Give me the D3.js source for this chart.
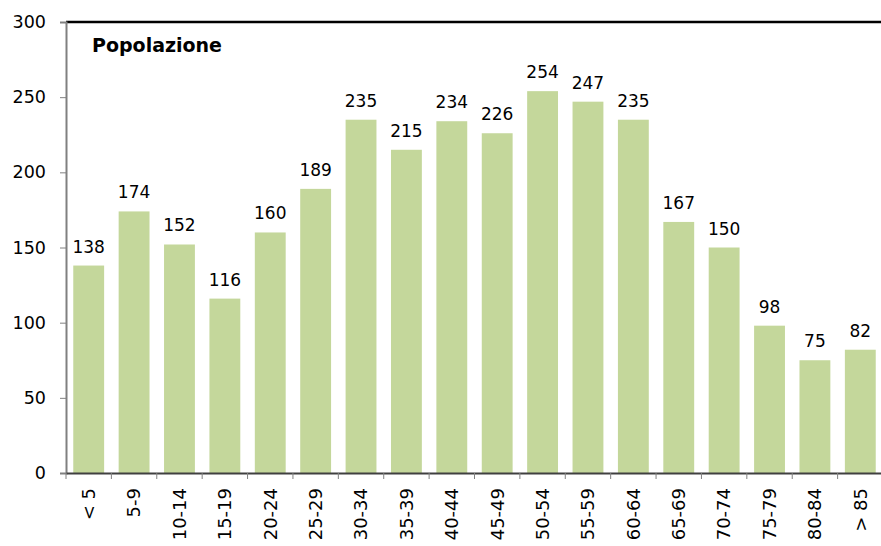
<!DOCTYPE html>
<html>
<head>
<meta charset="utf-8">
<script src="https://cdn.jsdelivr.net/npm/d3@7"></script>
<style>
  body { margin: 0; background: #fff; }
  text { font-family: "DejaVu Sans", Verdana, sans-serif; fill: #000; }
</style>
</head>
<body>
<div id="chart"></div>
<script>
// age classes and population per class
var categories = ["< 5", "5-9", "10-14", "15-19", "20-24", "25-29", "30-34", "35-39", "40-44",
  "45-49", "50-54", "55-59", "60-64", "65-69", "70-74", "75-79", "80-84", "> 85"];
var values = [138, 174, 152, 116, 160, 189, 235, 215, 234, 226, 254, 247, 235, 167, 150, 98, 75, 82];
var yTicks = [0, 50, 100, 150, 200, 250, 300];

var W = 881, H = 546;
var margin = {top: 22, right: -2, bottom: 73, left: 66},
    width = W - margin.left - margin.right,
    height = H - margin.top - margin.bottom;

var svg = d3.select("#chart").append("svg")
    .attr("width", W)
    .attr("height", H);

var g = svg.append("g")
    .attr("transform", "translate(" + margin.left + "," + margin.top + ")");

var x = d3.scaleBand()
    .domain(categories)
    .range([0, width])
    .paddingInner(0.32)
    .paddingOuter(0.16);

var y = d3.scaleLinear()
    .domain([0, 300])
    .range([height, 0]);

// bars
g.selectAll(".bar")
    .data(values)
    .enter().append("rect")
    .attr("class", "bar")
    .attr("x", function(d, i) { return x(categories[i]); })
    .attr("width", x.bandwidth())
    .attr("y", function(d) { return y(d); })
    .attr("height", function(d) { return height - y(d); })
    .attr("fill", "#c4d79b");

// value labels
g.selectAll(".lbl")
    .data(values)
    .enter().append("text")
    .attr("x", function(d, i) { return x(categories[i]) + x.bandwidth() / 2; })
    .attr("y", function(d) { return y(d) - 13; })
    .attr("text-anchor", "middle")
    .style("font-size", "17px")
    .text(function(d) { return d; });

// top border
g.append("line")
    .attr("x1", 0).attr("x2", width)
    .attr("y1", 0).attr("y2", 0)
    .attr("stroke", "#000").attr("stroke-width", 2.5);

// y axis
var yAxis = g.append("g")
    .call(d3.axisLeft(y).tickValues(yTicks).tickSize(6).tickPadding(14));
yAxis.select(".domain").attr("stroke", "#808080").attr("stroke-width", 2);
yAxis.selectAll(".tick line").attr("stroke", "#808080");
yAxis.selectAll("text").style("font-size", "17.5px").attr("fill", "#000");

// x axis, ticks between categories
var xAxis = g.append("g")
    .attr("transform", "translate(0," + height + ")")
    .call(d3.axisBottom(x).tickSize(0).tickPadding(0));
xAxis.select(".domain").attr("stroke", "#404040").attr("stroke-width", 2);
xAxis.selectAll("text")
    .style("font-size", "18px")
    .attr("text-anchor", "end")
    .attr("dy", "0.35em")
    .attr("transform", "translate(0,15) rotate(-90)");

var step = x.step();
g.append("g").selectAll("line")
    .data(d3.range(categories.length + 1))
    .enter().append("line")
    .attr("x1", function(i) { return i * step; })
    .attr("x2", function(i) { return i * step; })
    .attr("y1", height)
    .attr("y2", height + 6)
    .attr("stroke", "#808080");

// title
g.append("text")
    .attr("x", 26)
    .attr("y", 30)
    .style("font-size", "19px")
    .style("font-weight", "bold")
    .text("Popolazione");
</script>
</body>
</html>
